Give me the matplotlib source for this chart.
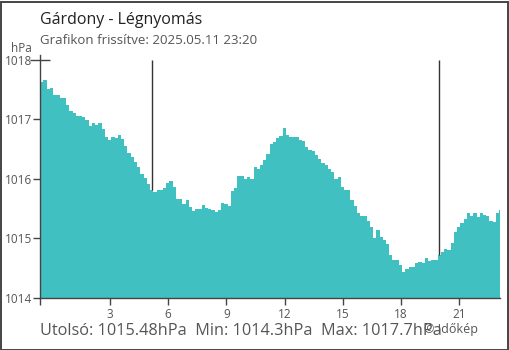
import numpy as np
import matplotlib
matplotlib.use("Agg")
import matplotlib.pyplot as plt
from matplotlib.patches import Rectangle

plt.rcParams['font.family'] = ['Open Sans', 'DejaVu Sans']

# ---- data ----
title = "Gárdony - Légnyomás"
subtitle = "Grafikon frissítve: 2025.05.11 23:20"
unit = "hPa"
start_hour = -0.6          # first sample (hours relative to midnight)
step_hours = 1 / 6         # 10-minute samples
pressure = [
    1017.62, 1017.66, 1017.51, 1017.52, 1017.40, 1017.41, 1017.36, 1017.35, 1017.24, 1017.14,
    1017.10, 1017.06, 1017.06, 1017.04, 1016.99, 1016.89, 1016.93, 1016.90, 1016.93, 1016.83,
    1016.71, 1016.65, 1016.71, 1016.68, 1016.73, 1016.67, 1016.56, 1016.43, 1016.36, 1016.28,
    1016.20, 1016.09, 1016.01, 1015.91, 1015.82, 1015.78, 1015.82, 1015.82, 1015.84, 1015.93,
    1015.97, 1015.86, 1015.66, 1015.66, 1015.58, 1015.65, 1015.52, 1015.46, 1015.50, 1015.50,
    1015.56, 1015.51, 1015.50, 1015.48, 1015.44, 1015.48, 1015.60, 1015.57, 1015.55, 1015.80,
    1015.85, 1016.04, 1016.04, 1016.00, 1016.03, 1015.99, 1016.20, 1016.17, 1016.24, 1016.31,
    1016.42, 1016.58, 1016.62, 1016.68, 1016.72, 1016.85, 1016.73, 1016.71, 1016.71, 1016.71,
    1016.65, 1016.64, 1016.53, 1016.49, 1016.46, 1016.40, 1016.34, 1016.26, 1016.23, 1016.16,
    1016.12, 1016.00, 1016.03, 1015.86, 1015.82, 1015.82, 1015.64, 1015.54, 1015.42, 1015.37,
    1015.37, 1015.29, 1015.20, 1015.00, 1015.15, 1015.03, 1014.98, 1014.90, 1014.72, 1014.64,
    1014.63, 1014.55, 1014.44, 1014.48, 1014.52, 1014.52, 1014.58, 1014.61, 1014.58, 1014.67,
    1014.62, 1014.64, 1014.64, 1014.72, 1014.78, 1014.82, 1014.81, 1014.93, 1015.11, 1015.20,
    1015.26, 1015.32, 1015.43, 1015.37, 1015.42, 1015.36, 1015.42, 1015.39, 1015.37, 1015.30,
    1015.27, 1015.43, 1015.48,
]
sun_events = [5.17, 19.97]   # sunrise / sunset markers (hours)
x_ticks = [3, 6, 9, 12, 15, 18, 21]
y_ticks = [1014, 1015, 1016, 1017, 1018]
footer = "Utolsó: 1015.48hPa  Min: 1014.3hPa  Max: 1017.7hPa"
credit = "© Időkép"

# ---- plot ----
W, H = 510, 350
fig = plt.figure(figsize=(W / 100, H / 100), dpi=100)
ax = fig.add_axes([40 / W, 1 - 298 / H, 460 / W, (298 - 55) / H])

p = np.array(pressure)
t = start_hour + step_hours * np.arange(len(p))
t_edges = np.append(t, t[-1] + step_hours)
p_edges = np.append(p, p[-1])
fill_color = '#40c0c1'
ax.fill_between(t_edges, 1000, p_edges, step='post', color=fill_color, lw=0)

ax.set_xlim(-0.61, 23.11)
ax.set_ylim(1014, 1018.08)

for ev in sun_events:
    idx = int((ev - start_hour) // step_hours)
    ax.vlines(ev, p[idx], 1018, color='#333333', lw=1.0)

gray = '#555555'
for s in ['top', 'right']:
    ax.spines[s].set_visible(False)
for s in ['left', 'bottom']:
    ax.spines[s].set_color('#444444')
    ax.spines[s].set_linewidth(1.0)

ax.set_xticks([-0.61] + x_ticks)
ax.set_xticklabels([''] + [str(v) for v in x_ticks])
ax.set_yticks(y_ticks)
ax.set_yticklabels([str(v) for v in y_ticks])
ax.tick_params(axis='both', colors='#444444', labelcolor=gray, labelsize=8.5,
               length=5, width=1.0, pad=2)
ax.tick_params(axis='y', pad=1)
top_tick = ax.yaxis.get_major_ticks()[-1]
top_tick.tick1line.set_marker('_')
top_tick.tick1line.set_markersize(14)

fig.text(40 / W, 1 - 20 / H, title, fontsize=11.5, color='#222222', va='center', ha='left')
fig.text(40 / W, 1 - 41 / H, subtitle, fontsize=9.5, color=gray, va='center', ha='left')
fig.text(11 / W, 1 - 48 / H, unit, fontsize=8.5, color=gray, va='center', ha='left')
fig.text(40 / W, 1 - 331 / H, footer, fontsize=11.7, color=gray, va='center', ha='left')
fig.text(424 / W, 1 - 330 / H, credit, fontsize=9, color=gray, va='center', ha='left')

fig.patches.append(Rectangle((0.5 / W, 0.5 / H), 1 - 2 / W, 1 - 2 / H,
                             transform=fig.transFigure, fill=False,
                             edgecolor='#444444', lw=1.4))

fig.savefig('out.png', dpi=100)
